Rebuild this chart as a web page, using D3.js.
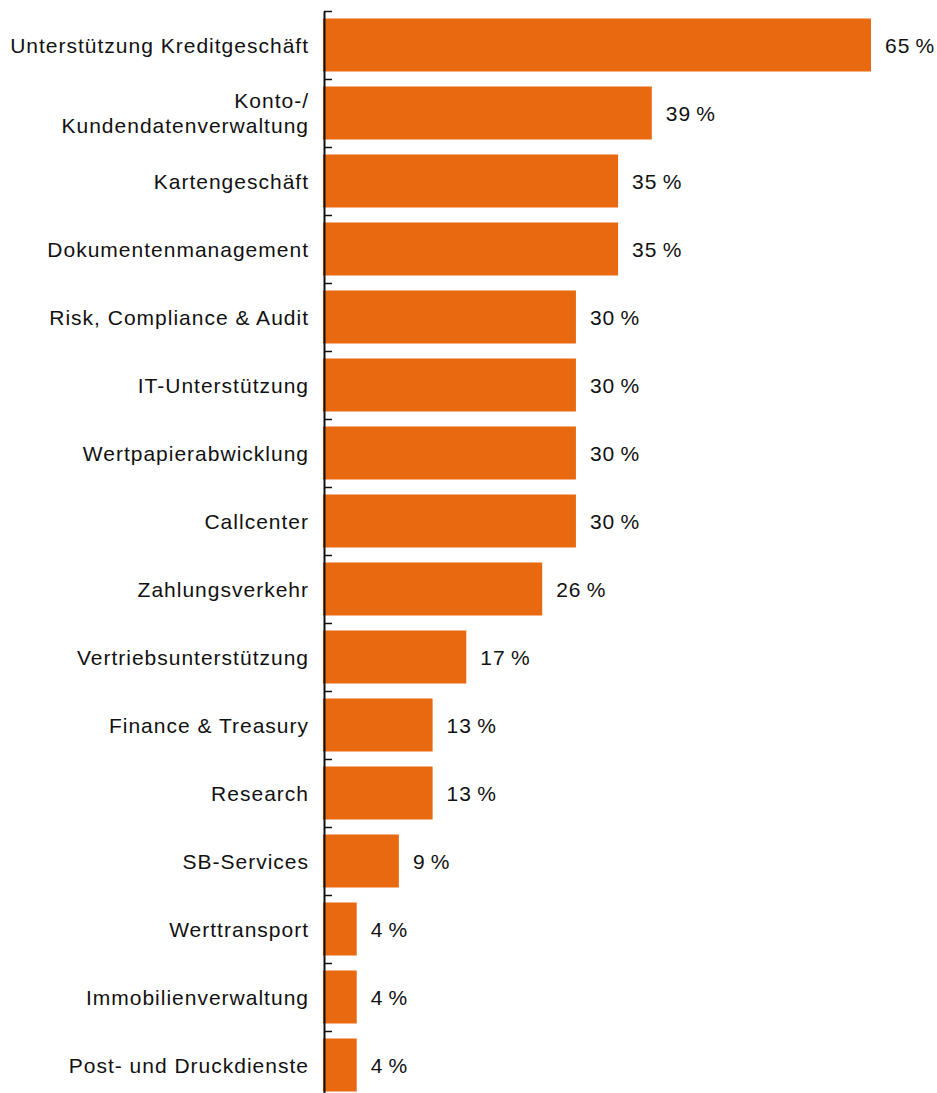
<!DOCTYPE html>
<html>
<head>
<meta charset="utf-8">
<script src="https://cdn.jsdelivr.net/npm/d3@7"></script>
<style>
  body { margin: 0; background: #fff; }
  text { font-family: "Liberation Sans", Arial, Helvetica, sans-serif; fill: #111; letter-spacing: 1px; }
</style>
</head>
<body>
<script>
// Daten
const categories = [
  "Unterstützung Kreditgeschäft",
  "Konto-/\nKundendatenverwaltung",
  "Kartengeschäft",
  "Dokumentenmanagement",
  "Risk, Compliance & Audit",
  "IT-Unterstützung",
  "Wertpapierabwicklung",
  "Callcenter",
  "Zahlungsverkehr",
  "Vertriebsunterstützung",
  "Finance & Treasury",
  "Research",
  "SB-Services",
  "Werttransport",
  "Immobilienverwaltung",
  "Post- und Druckdienste"
];
const values = [65, 39, 35, 35, 30, 30, 30, 30, 26, 17, 13, 13, 9, 4, 4, 4];

const width = 937;
const height = 1093;
const step = 68;
const top0 = 11;
const axisX = 324;

const svg = d3.select('body')
  .append('svg')
  .attr('width', width)
  .attr('height', height);

// y: Kategorien
const yScale = d3.scaleBand()
  .domain(categories)
  .range([top0, top0 + categories.length * step])
  .paddingInner(15 / 68)
  .paddingOuter(7.5 / 68);

// x: Prozent
const xScale = d3.scaleLinear()
  .domain([0, 65])
  .range([323, 871]);

// Balken
svg.append('g')
  .selectAll('rect')
  .data(values)
  .join('rect')
  .attr('x', xScale(0))
  .attr('y', (d, i) => yScale(categories[i]))
  .attr('width', d => xScale(d) - xScale(0))
  .attr('height', yScale.bandwidth())
  .attr('fill', '#e8690f');

// Achse mit Ticks an den Bandgrenzen
const tickScale = d3.scaleLinear()
  .domain([0, categories.length])
  .range([top0, top0 + categories.length * step]);
const yAxis = d3.axisRight(tickScale)
  .tickValues(d3.range(categories.length))
  .tickSize(8)
  .tickSizeOuter(0)
  .tickFormat('');
const axisG = svg.append('g')
  .attr('transform', `translate(${axisX},0)`)
  .call(yAxis);
axisG.select('.domain').attr('stroke', '#111').attr('stroke-width', 2);
axisG.selectAll('.tick line').attr('stroke', '#111').attr('stroke-width', 1.5);

// Kategorie-Beschriftung
const lineH = 25;
const labelX = 309;
const labels = svg.append('g')
  .selectAll('text')
  .data(categories)
  .join('text')
  .attr('text-anchor', 'end')
  .attr('font-size', 21)
  .attr('x', labelX)
  .attr('y', d => yScale(d) + yScale.bandwidth() / 2);

labels.each(function(d) {
  const lines = d.split('\n');
  const self = d3.select(this);
  lines.forEach((l, k) => {
    self.append('tspan')
      .attr('x', labelX)
      .attr('dy', k === 0 ? ((-(lines.length - 1) / 2) * lineH + 7.5) : lineH)
      .text(l);
  });
});

// Werte
svg.append('g')
  .selectAll('text')
  .data(values)
  .join('text')
  .attr('font-size', 21)
  .attr('x', d => xScale(d) + 14)
  .attr('y', (d, i) => yScale(categories[i]) + yScale.bandwidth() / 2 + 7.5)
  .text(d => d + '\u2009%');
</script>
</body>
</html>
